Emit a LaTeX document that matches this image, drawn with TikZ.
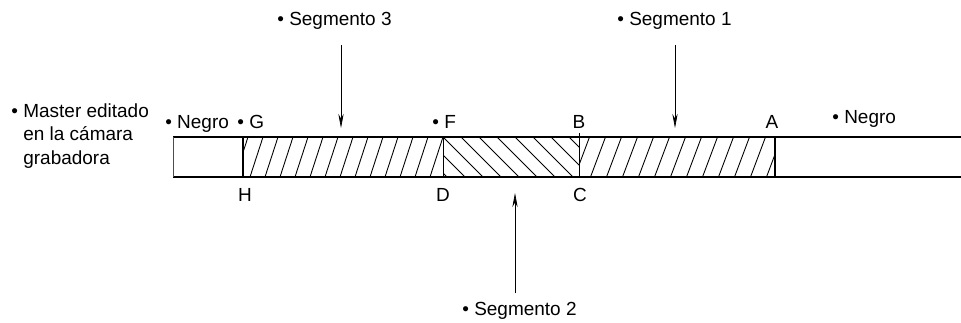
\documentclass[tikz,border=0pt]{standalone}
\usepackage{fontspec}
\setmainfont{Liberation Sans}
\usetikzlibrary{arrows.meta}
\begin{document}
\begin{tikzpicture}[x=0.02cm, y=-0.02cm, font=\fontsize{10.8}{13.5}\selectfont,
    lbl/.style={inner sep=0pt, anchor=base west},
    ltr/.style={inner sep=0pt, anchor=base},
    hatch/.style={line width=0.5pt},
    flecha/.style={-{Stealth[length=8pt,width=3pt]}, line width=0.4pt}]
  \useasboundingbox (0,0) rectangle (961,322);
  % rayado de los segmentos
  \begin{scope}
    \clip (243,137) rectangle (443,177);
    \foreach \x in {220,235,...,430} \draw[hatch] (\x,177) -- ++(13,-40);
  \end{scope}
  \begin{scope}
    \clip (443,137) rectangle (579,177);
    \foreach \x in {407,425,...,575} \draw[hatch] (\x,137) -- ++(40,40);
  \end{scope}
  \begin{scope}
    \clip (579,137) rectangle (775,177);
    \foreach \x in {558.5,574.5,...,775} \draw[hatch] (\x,177) -- ++(15,-40);
  \end{scope}
  % cinta
  \draw[line width=0.6pt] (173,137) -- (961,137);
  \draw[line width=0.6pt] (173,177) -- (961,177);
  \draw[line width=0.4pt, black!70] (173,137) -- (173,177);
  \draw[line width=0.6pt] (243,137) -- (243,177);
  \draw[line width=0.4pt] (443,137) -- (443,177);
  \draw[line width=0.4pt] (579,133) -- (579,177);
  \draw[line width=0.6pt] (775,137) -- (775,177);
  % textos
  \node[lbl, align=left, anchor=north west] (master) at (23,103)
    {\llap{\textbullet\ }Master editado\\en la cámara\\grabadora};
  \node[lbl] (negroi) at (165,128) {\textbullet\ Negro};
  \node[lbl] (g) at (237,128) {\textbullet\ G};
  \node[lbl] (f) at (432,128) {\textbullet\ F};
  \node[ltr] (b) at (579,128) {B};
  \node[ltr] (a) at (772,128) {A};
  \node[lbl] (negrod) at (832,123) {\textbullet\ Negro};
  \node[ltr] (h) at (245,201) {H};
  \node[ltr] (d) at (443,201) {D};
  \node[ltr] (c) at (580,201) {C};
  \node[lbl] (seg3) at (277,25) {\textbullet\ Segmento 3};
  \node[lbl] (seg1) at (617,25) {\textbullet\ Segmento 1};
  \node[lbl] (seg2) at (462,315) {\textbullet\ Segmento 2};
  % flechas
  \coordinate (s3a) at (341,45);
  \coordinate (s3b) at (341,128);
  \coordinate (s1a) at (675,45);
  \coordinate (s1b) at (675,128);
  \coordinate (s2a) at (515,293);
  \coordinate (s2b) at (515,193);
  \draw[flecha] (s3a) -- (s3b);
  \draw[flecha] (s1a) -- (s1b);
  \draw[flecha] (s2a) -- (s2b);
\end{tikzpicture}
\end{document}
